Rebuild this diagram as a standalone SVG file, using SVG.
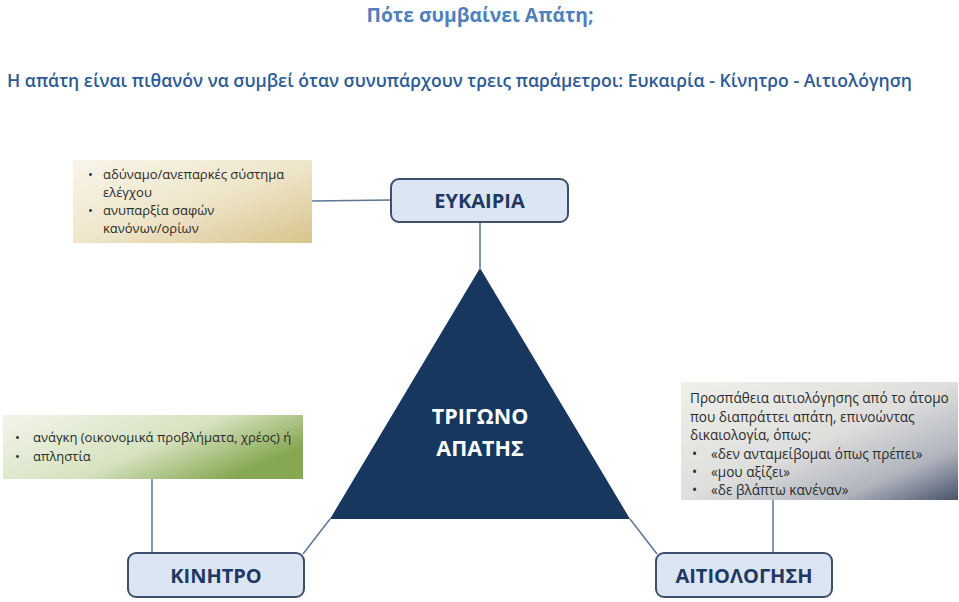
<svg xmlns="http://www.w3.org/2000/svg" width="959" height="602" viewBox="0 0 959 602">
<defs>
<linearGradient id="gGold" x1="0" y1="0" x2="1" y2="1">
<stop offset="0" stop-color="#f8f5ea"/><stop offset="0.5" stop-color="#efe6cb"/><stop offset="1" stop-color="#d8c48c"/>
</linearGradient>
<linearGradient id="gGreen" x1="0" y1="0" x2="1" y2="0.5">
<stop offset="0" stop-color="#f3f5ec"/><stop offset="0.6" stop-color="#d6e2bf"/><stop offset="1" stop-color="#86a852"/>
</linearGradient>
<linearGradient id="gGrey" x1="0" y1="0" x2="1" y2="1">
<stop offset="0" stop-color="#f0efe9"/><stop offset="0.5" stop-color="#dededd"/><stop offset="0.78" stop-color="#b0b4bd"/><stop offset="1" stop-color="#48546c"/>
</linearGradient>
<style>
.t{font-family:"Open Sans","Liberation Sans",sans-serif;}
.title{font-size:20px;font-weight:700;fill:#4f81bd;}
.sub{font-size:17.5px;font-weight:600;fill:#2e5a96;}
.box{fill:#dce6f2;stroke:#3d4f6c;stroke-width:2;}
.lbl{font-size:20px;font-weight:700;fill:#1f3864;}
.body{font-size:13px;fill:#2b2b2b;}
.bodyg{font-size:13.6px;fill:#2b2b2b;}
.tri{font-size:21.5px;font-weight:700;fill:#ffffff;}
.conn{stroke:#5d7696;stroke-width:1.5;fill:none;}
</style>
</defs>
<rect width="959" height="602" fill="#ffffff"/>
<text class="t title" x="480" y="22" text-anchor="middle" textLength="227" lengthAdjust="spacingAndGlyphs">Πότε συμβαίνει Απάτη;</text>
<text class="t sub" x="7" y="87" textLength="905" lengthAdjust="spacingAndGlyphs">Η απάτη είναι πιθανόν να συμβεί όταν συνυπάρχουν τρεις παράμετροι: Ευκαιρία - Κίνητρο - Αιτιολόγηση</text>
<g id="connectors">
<line class="conn" x1="312" y1="201" x2="391" y2="200"/>
<line class="conn" x1="480" y1="222" x2="480" y2="268"/>
<line class="conn" x1="152" y1="479" x2="152" y2="553"/>
<line class="conn" x1="330" y1="519" x2="303" y2="554"/>
<line class="conn" x1="630" y1="519" x2="657" y2="554"/>
<line class="conn" x1="773" y1="500" x2="773" y2="553"/>
</g>
<g id="opportunity-note">
<rect x="73" y="160" width="239" height="83" fill="url(#gGold)"/>
<text class="t body" x="88" y="179">•</text>
<text class="t body" x="103" y="179">αδύναμο/ανεπαρκές σύστημα</text>
<text class="t body" x="103" y="197">ελέγχου</text>
<text class="t body" x="88" y="215">•</text>
<text class="t body" x="103" y="215">ανυπαρξία σαφών</text>
<text class="t body" x="103" y="233">κανόνων/ορίων</text>
</g>
<g id="opportunity">
<rect class="box" x="391" y="179" width="177" height="43" rx="8"/>
<text class="t lbl" x="479.5" y="208" text-anchor="middle">ΕΥΚΑΙΡΙΑ</text>
</g>
<g id="motive-note">
<rect x="3" y="415" width="300" height="64" fill="url(#gGreen)"/>
<text class="t body" x="15" y="442">•</text>
<text class="t body" x="33" y="442">ανάγκη (οικονομικά προβλήματα, χρέος) ή</text>
<text class="t body" x="15" y="461">•</text>
<text class="t body" x="33" y="461">απληστία</text>
</g>
<g id="triangle">
<polygon points="480,268 630,519 330,519" fill="#17375e"/>
<text class="t tri" x="480" y="424" text-anchor="middle">ΤΡΙΓΩΝΟ</text>
<text class="t tri" x="480" y="456" text-anchor="middle">ΑΠΑΤΗΣ</text>
</g>
<g id="rationalization-note">
<rect x="681" y="382" width="277" height="118" fill="url(#gGrey)"/>
<text class="t bodyg" x="690" y="403">Προσπάθεια αιτιολόγησης από το άτομο</text>
<text class="t bodyg" x="690" y="421.5">που διαπράττει απάτη, επινοώντας</text>
<text class="t bodyg" x="690" y="440">δικαιολογία, όπως:</text>
<text class="t bodyg" x="692" y="458.5">•</text>
<text class="t bodyg" x="711" y="458.5">«δεν ανταμείβομαι όπως πρέπει»</text>
<text class="t bodyg" x="692" y="477">•</text>
<text class="t bodyg" x="711" y="477">«μου αξίζει»</text>
<text class="t bodyg" x="692" y="495">•</text>
<text class="t bodyg" x="711" y="495">«δε βλάπτω κανέναν»</text>
</g>
<g id="motive">
<rect class="box" x="128" y="553" width="176" height="44" rx="8"/>
<text class="t lbl" x="216" y="583" text-anchor="middle">ΚΙΝΗΤΡΟ</text>
</g>
<g id="rationalization">
<rect class="box" x="656" y="553" width="176" height="44" rx="8"/>
<text class="t lbl" x="744" y="583" text-anchor="middle">ΑΙΤΙΟΛΟΓΗΣΗ</text>
</g>
</svg>
